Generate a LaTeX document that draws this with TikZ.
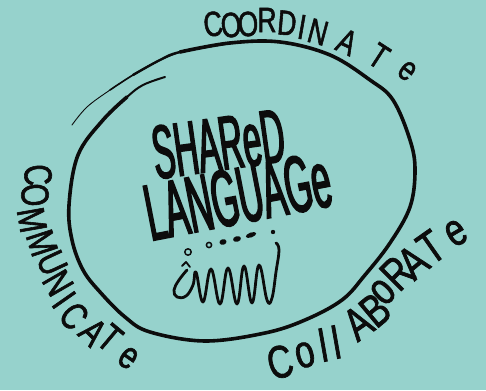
\documentclass[tikz,border=0pt]{standalone}
\usepackage{fontspec}
\usepackage{tikz}
\newfontfamily\handfont[FakeStretch=0.75, FakeBold=1.5]{Liberation Sans}
\newfontfamily\tallfont[FakeStretch=0.43, FakeBold=2]{Liberation Sans}
\definecolor{tealBack}{RGB}{150,210,204}
\definecolor{inkBlack}{RGB}{12,12,12}
\tikzset{
	ink/.style={draw=inkBlack, line cap=round, line join=round},
	letter/.style={text=inkBlack, inner sep=0pt, font=\handfont\fontsize{#1}{#1}\selectfont},
	bigword/.style={anchor=base, text=inkBlack, inner sep=0pt, font=\tallfont\fontsize{#1}{#1}\selectfont}
}

\begin{document}
\begin{tikzpicture}[x=1pt, y=1pt]
	\fill[tealBack] (0,0) rectangle (486,390);
	\useasboundingbox (0,0) rectangle (486,390);

	% the big loop, open at the top left
	\draw[ink, line width=3.6pt] plot[smooth, tension=0.6] coordinates {(127,293) (103,270) (78,235) (69,185) (72,150) (83,120) (100,98) (125,73) (150,58) (205,49) (265,57) (305,70) (342,90) (365,115) (390,147) (410,183) (415,220) (410,250) (393,290) (370,310) (330,335) (280,348) (230,347) (180,338)};
	\draw[ink, line width=2pt] plot[smooth, tension=0.6] coordinates {(165,313) (143,305) (127,293) (103,270)};
	\draw[ink, line width=2.4pt] plot[smooth, tension=0.6] coordinates {(230,347) (180,338) (160,330) (133,315)};
	\draw[ink, line width=1.6pt] plot[smooth, tension=0.6] coordinates {(180,338) (160,330) (133,315) (110,300)};
	\draw[ink, line width=0.9pt] plot[smooth, tension=0.6] coordinates {(133,315) (110,300) (87,283) (72,265)};

	% words round the loop, letter by letter
	\foreach \ch/\x/\y/\a [count=\k] in {C/213/366/8, O/231/365/5, O/248/366/3, R/267/370/0, D/287/367/-5,
			I/302/363/-10, N/318/358/-15, A/347/348/-25, T/379/334/-33, e/407/319/-38}
		\node[letter=35, rotate=\a] (coordinate\k) at (\x,\y) {\ch};
	\foreach \ch/\x/\y/\a [count=\k] in {C/38/215/-85, O/35/195/-85, M/32/170/-80, M/42/147/-72, U/52/127/-65,
			N/58/107/-60, I/64/90/-55, C/74/74/-50, A/93/58/-45, T/110/52/-40, e/128/32/-35}
		\node[letter=39, rotate=\a] (communicate\k) at (\x,\y) {\ch};
	\foreach \ch/\x/\y/\a [count=\k] in {C/280/28/15, o/305/35/15, l/323/45/10, l/336/48/10, A/358/67/35,
			B/375/80/40, o/383/98/45, R/397/117/45, A/413/128/40, T/431/143/35, e/456/157/30}
		\node[letter=46, rotate=\a] (collaborate\k) at (\x,\y) {\ch};

	% inside
	\node[bigword=76, rotate=8] (shared) at (222,220) {SHAReD};
	\node[bigword=80, rotate=11] (language) at (243,167) {LANGUAGe};

	% little doodle under the words
	\draw[ink, line width=1.5pt] (188,138) circle (3.2);
	\draw[ink, line width=1.5pt] (209,145) circle (2.6);
	\fill[inkBlack, rotate around={15:(223,148)}] (223,148) ellipse (3.6 and 2.8);
	\fill[inkBlack, rotate around={15:(237,151)}] (237,151) ellipse (4 and 2.8);
	\fill[inkBlack, rotate around={20:(251,155)}] (251,155) ellipse (5.5 and 2.4);
	\fill[inkBlack] (273,158) circle (2.2);
	\draw[ink, line width=1.8pt] (182,124) -- (186,128) -- (190,123);
	\draw[ink, line width=2.8pt] plot[smooth, tension=0.7] coordinates {(187,120) (179,110) (174,100) (177,93) (186,94) (193,105) (196,118) (203,88) (211,121) (220,86) (228,122) (237,86) (244,124) (252,87) (259,125) (267,90) (272,92) (276,118) (279,140) (276,147)};
\end{tikzpicture}
\end{document}
